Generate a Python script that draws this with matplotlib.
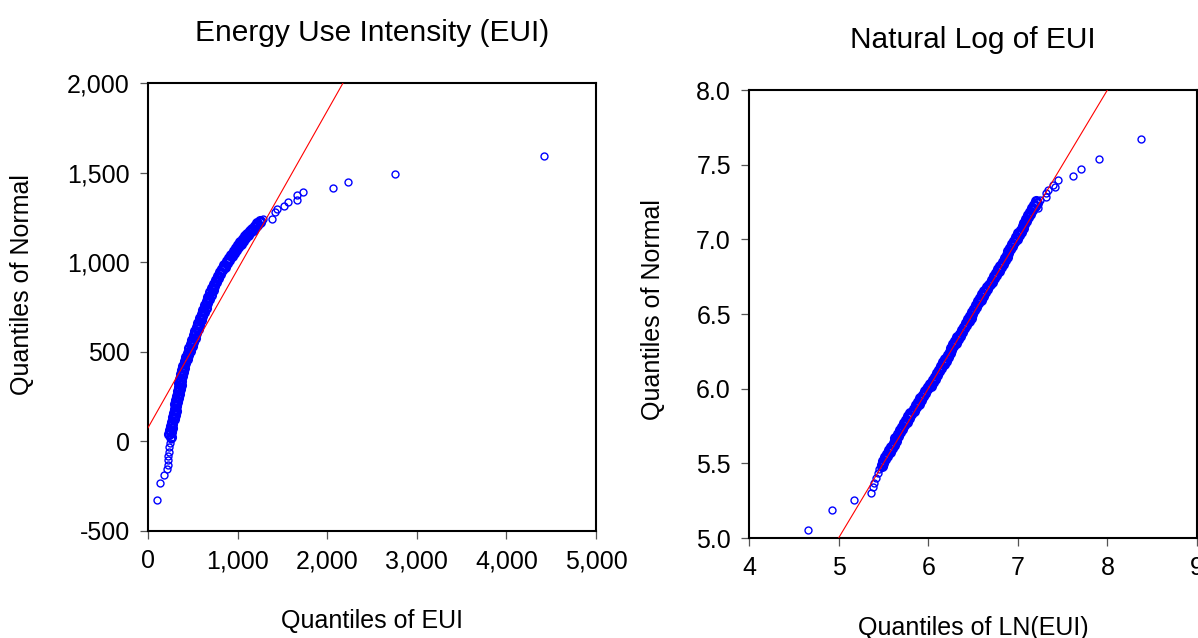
import numpy as np
import matplotlib
matplotlib.use("Agg")
import matplotlib.pyplot as plt

plt.rcParams['font.family'] = ['Liberation Sans', 'DejaVu Sans']

# ---------------- left panel: EUI vs normal quantiles ----------------
eui_lo_x = [104, 137, 175, 216, 220, 223, 227, 231, 238, 246, 253]
eui_lo_y = [-329, -234, -186, -152, -134, -106, -84, -60, -32, -9, 15]

# dense middle part of the curve (points overlap into a solid band)
eui_band_y = [27, 39, 51, 63, 75, 87, 99, 111, 123, 135, 147,
              159, 171, 183, 195, 207, 219, 231, 243, 255, 267, 279,
              291, 303, 315, 327, 339, 351, 363, 375, 387, 399,
              411, 423, 435, 447, 459, 471, 483, 495, 507, 519,
              531, 543, 555, 567, 579, 591, 603, 615, 627, 639, 651, 663,
              675, 687, 699, 711, 723, 735, 747, 759,
              771, 783, 795, 807, 819, 831, 843, 855,
              866, 877, 888, 899, 910, 921, 932, 943, 954,
              964, 974, 984, 994, 1004, 1014, 1024,
              1033, 1042, 1051, 1060, 1069, 1078, 1087, 1096,
              1104, 1112, 1120, 1128, 1136, 1144, 1152,
              1160, 1167, 1174, 1181, 1188, 1195,
              1202, 1209, 1216, 1223, 1230]
eui_band_x = [252, 239, 259, 246, 266, 253, 273, 263, 285, 275, 297,
              287, 307, 296, 317, 306, 327, 315, 336, 325, 346, 335,
              354, 342, 363, 351, 372, 360, 380, 369, 390, 378,
              398, 390, 415, 408, 432, 425, 449, 442, 468, 461,
              486, 479, 503, 495, 519, 512, 536, 529, 553, 546, 571, 563,
              588, 581, 606, 599, 624, 617, 642, 635,
              660, 654, 680, 674, 700, 694, 720, 714,
              740, 735, 762, 758, 785, 780, 807, 803, 830,
              827, 856, 853, 882, 879, 908, 905,
              933, 930, 959, 956, 985, 981, 1010, 1007,
              1035, 1031, 1060, 1057, 1086, 1083, 1112,
              1109, 1139, 1137, 1168, 1166, 1196,
              1193, 1222, 1219, 1248, 1245]

eui_hi_x = [1287, 1380, 1417, 1436, 1518, 1566, 1659, 1666, 1733, 2068, 2229, 2753, 4416]
eui_hi_y = [1243, 1243, 1280, 1298, 1311, 1335, 1349, 1373, 1391, 1415, 1449, 1494, 1594]

eui_fit = (76, 0.884)  # intercept, slope of the reference line

# ---------------- right panel: ln(EUI) vs normal quantiles ----------------
ln_lo_x = [4.66, 4.93, 5.17, 5.361, 5.379, 5.398, 5.417, 5.435, 5.454]
ln_lo_y = [5.054, 5.187, 5.254, 5.299, 5.339, 5.366, 5.399, 5.433, 5.462]

ln_band_y = [5.480, 5.492, 5.504, 5.516, 5.528, 5.540, 5.552, 5.564, 5.576, 5.588,
             5.600, 5.612, 5.624, 5.636, 5.648, 5.660, 5.672, 5.684, 5.696, 5.708,
             5.720, 5.732, 5.744, 5.756, 5.768, 5.780, 5.792, 5.804, 5.816, 5.828,
             5.840, 5.852, 5.864, 5.876, 5.888, 5.900, 5.912, 5.924, 5.936, 5.948,
             5.960, 5.972, 5.984, 5.996, 6.008, 6.020, 6.032, 6.044, 6.056, 6.068,
             6.080, 6.092, 6.104, 6.116, 6.128, 6.140, 6.152, 6.164, 6.176, 6.188,
             6.200, 6.212, 6.224, 6.236, 6.248, 6.260, 6.272, 6.284, 6.296, 6.308,
             6.320, 6.332, 6.344, 6.356, 6.368, 6.380, 6.392, 6.404, 6.416, 6.428,
             6.440, 6.452, 6.464, 6.476, 6.488, 6.500, 6.512, 6.524, 6.536, 6.548,
             6.560, 6.572, 6.584, 6.596, 6.608, 6.620, 6.632, 6.644, 6.656, 6.668,
             6.680, 6.692, 6.704, 6.716, 6.728, 6.740, 6.752, 6.764, 6.776, 6.788,
             6.800, 6.812, 6.824, 6.836, 6.848, 6.860, 6.872, 6.884, 6.896, 6.908,
             6.920, 6.932, 6.944, 6.956, 6.968, 6.980, 6.992, 7.004, 7.016, 7.028,
             7.040, 7.052, 7.064, 7.076, 7.088, 7.100, 7.112, 7.124, 7.136, 7.148,
             7.160, 7.172, 7.184, 7.196, 7.208, 7.220, 7.232, 7.244, 7.256]
ln_band_x = [5.488, 5.484, 5.497, 5.493, 5.521, 5.517, 5.545, 5.541, 5.569, 5.565,
             5.593, 5.589, 5.617, 5.613, 5.641, 5.638, 5.634, 5.662, 5.658, 5.686,
             5.682, 5.710, 5.706, 5.734, 5.730, 5.758, 5.754, 5.782, 5.778, 5.806,
             5.802, 5.845, 5.841, 5.869, 5.865, 5.893, 5.889, 5.917, 5.913, 5.941,
             5.937, 5.965, 5.961, 5.989, 6.000, 6.028, 6.024, 6.052, 6.048, 6.076,
             6.072, 6.100, 6.096, 6.124, 6.120, 6.148, 6.144, 6.172, 6.168, 6.196,
             6.192, 6.220, 6.216, 6.244, 6.240, 6.258, 6.254, 6.282, 6.278, 6.306,
             6.302, 6.330, 6.326, 6.354, 6.350, 6.378, 6.374, 6.402, 6.398, 6.426,
             6.422, 6.450, 6.446, 6.474, 6.470, 6.488, 6.484, 6.512, 6.508, 6.536,
             6.532, 6.560, 6.556, 6.584, 6.580, 6.608, 6.604, 6.632, 6.628, 6.656,
             6.652, 6.680, 6.686, 6.714, 6.710, 6.738, 6.734, 6.762, 6.758, 6.786,
             6.782, 6.810, 6.806, 6.834, 6.830, 6.858, 6.854, 6.882, 6.878, 6.891,
             6.887, 6.915, 6.911, 6.939, 6.935, 6.963, 6.959, 6.987, 6.983, 7.011,
             7.007, 7.035, 7.031, 7.059, 7.055, 7.068, 7.064, 7.092, 7.088, 7.116,
             7.112, 7.140, 7.136, 7.164, 7.160, 7.188, 7.184, 7.212, 7.208]

ln_hi_x = [7.225, 7.244, 7.311, 7.319, 7.337, 7.39, 7.412, 7.449, 7.62, 7.70, 7.91, 8.38]
ln_hi_y = [7.207, 7.262, 7.307, 7.284, 7.329, 7.363, 7.351, 7.396, 7.425, 7.47, 7.54, 7.67]

ln_fit = (0.0, 1.0)

# axis ticks / labels
eui_xticks = [0, 1000, 2000, 3000, 4000, 5000]
eui_xlabels = ['0', '1,000', '2,000', '3,000', '4,000', '5,000']
eui_yticks = [-500, 0, 500, 1000, 1500, 2000]
eui_ylabels = ['-500', '0', '500', '1,000', '1,500', '2,000']
ln_xticks = [4, 5, 6, 7, 8, 9]
ln_xlabels = ['4', '5', '6', '7', '8', '9']
ln_yticks = [5.0, 5.5, 6.0, 6.5, 7.0, 7.5, 8.0]
ln_ylabels = ['5.0', '5.5', '6.0', '6.5', '7.0', '7.5', '8.0']

W, H = 1198, 638
fig = plt.figure(figsize=(W / 100, H / 100), dpi=100)
ax1 = fig.add_axes([148 / W, 1 - 531 / H, 448 / W, 448 / H])
ax2 = fig.add_axes([749 / W, 1 - 538 / H, 448 / W, 448 / H])


def qq_panel(ax, lo, band, hi, fit, xlim, ylim, xt, xl, yt, yl, title, xlabel):
    # tails: single open circles
    for px, py in (lo, hi):
        ax.plot(px, py, 'o', mfc='none', mec='#0000ff', ms=5.0, mew=1.0, zorder=2)
    # crowded middle: many overlapping circles read as a solid band
    ax.plot(band[0], band[1], 'o', mfc='none', mec='#0000ff', ms=6.2, mew=1.8, zorder=2)
    lx = np.array(xlim, dtype=float)
    ax.plot(lx, fit[0] + fit[1] * lx, color='#ff0000', lw=0.8, zorder=3)
    ax.set_xlim(xlim)
    ax.set_ylim(ylim)
    ax.set_xticks(xt)
    ax.set_xticklabels(xl)
    ax.set_yticks(yt)
    ax.set_yticklabels(yl)
    ax.tick_params(direction='out', length=6, width=0.9, color='#555555',
                   labelsize=18, top=False, right=False)
    ax.tick_params(axis='x', pad=7)
    ax.tick_params(axis='y', pad=7)
    for s in ax.spines.values():
        s.set_linewidth(1.5)
    ax.set_title(title, fontsize=21.5, pad=30)
    ax.set_xlabel(xlabel, fontsize=18, labelpad=26)
    ax.set_ylabel('Quantiles of Normal', fontsize=18)


qq_panel(ax1, (eui_lo_x, eui_lo_y), (eui_band_x, eui_band_y), (eui_hi_x, eui_hi_y),
         eui_fit, (0, 5000), (-500, 2000), eui_xticks, eui_xlabels,
         eui_yticks, eui_ylabels, 'Energy Use Intensity (EUI)', 'Quantiles of EUI')
qq_panel(ax2, (ln_lo_x, ln_lo_y), (ln_band_x, ln_band_y), (ln_hi_x, ln_hi_y),
         ln_fit, (4, 9), (5.0, 8.0), ln_xticks, ln_xlabels,
         ln_yticks, ln_ylabels, 'Natural Log of EUI', 'Quantiles of LN(EUI)')

ax1.yaxis.set_label_coords(-0.254, 0.549)
ax2.yaxis.set_label_coords(-0.1875, 0.509)

fig.savefig('out.png', dpi=100)
